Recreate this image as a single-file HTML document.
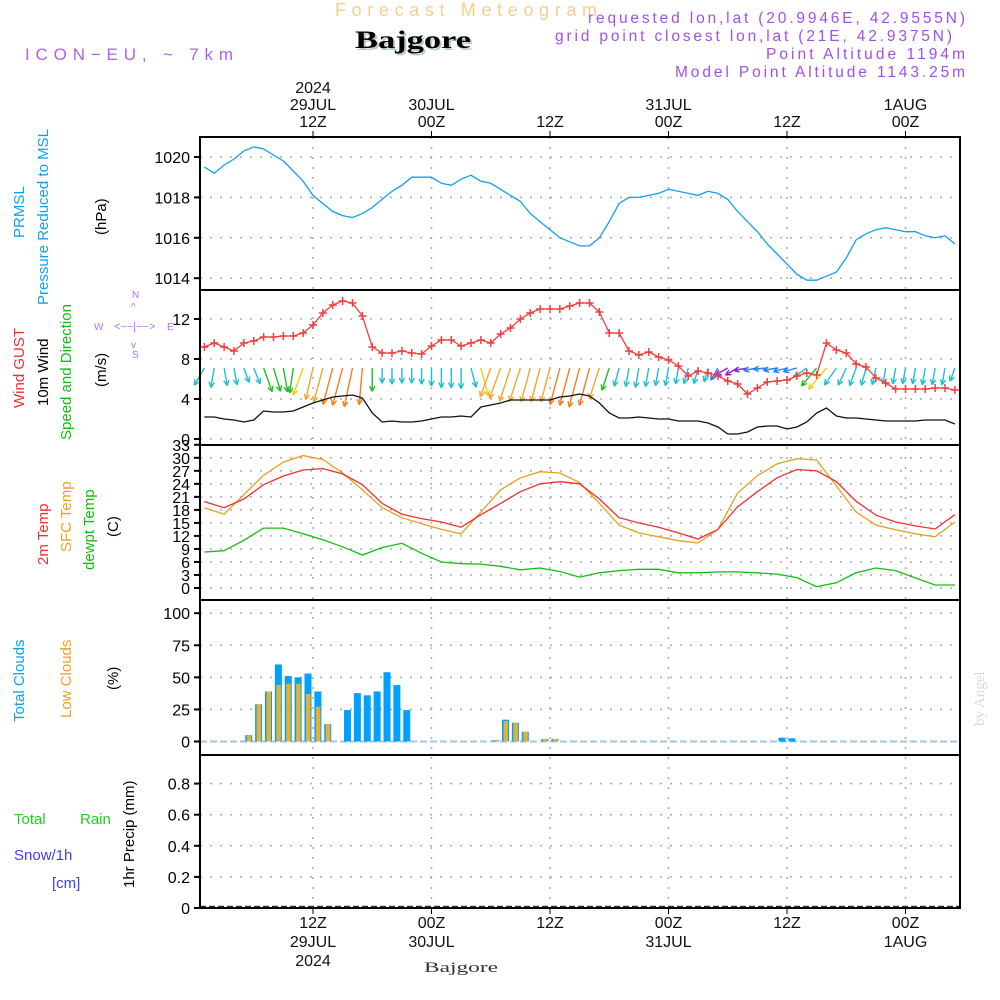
<!DOCTYPE html>
<html><head><meta charset="utf-8"><style>
html,body{margin:0;padding:0;background:#fff;}
svg{display:block;font-family:"Liberation Sans",sans-serif;}
</style></head><body>
<svg id="chart" width="1000" height="1000" viewBox="0 0 1000 1000" xmlns="http://www.w3.org/2000/svg">
<g>
<text x="335" y="16" textLength="262" lengthAdjust="spacing" font-size="18" fill="#f3d08c">Forecast Meteogram</text>
<text x="357" y="50" textLength="116" lengthAdjust="spacingAndGlyphs" font-family="Liberation Serif,serif" font-weight="bold" font-size="25" fill="#b8d0b8">Bajgore</text>
<text x="355" y="48" textLength="116" lengthAdjust="spacingAndGlyphs" font-family="Liberation Serif,serif" font-weight="bold" font-size="25" fill="#000">Bajgore</text>
<text x="25" y="60" textLength="208" lengthAdjust="spacing" font-size="17" fill="#b060f0">ICON−EU, ~ 7km</text>
<text x="588" y="23" textLength="377" lengthAdjust="spacing" font-size="15.5" fill="#a050e8">requested lon,lat (20.9946E, 42.9555N)</text>
<text x="555" y="41" textLength="397" lengthAdjust="spacing" font-size="15.5" fill="#a050e8">grid point closest lon,lat (21E, 42.9375N)</text>
<text x="766" y="59" textLength="199" lengthAdjust="spacing" font-size="15.5" fill="#a050e8">Point Altitude 1194m</text>
<text x="675" y="77" textLength="290" lengthAdjust="spacing" font-size="15.5" fill="#a050e8">Model Point Altitude 1143.25m</text>
<text transform="translate(984,726) rotate(-90)" font-family="Liberation Serif,serif" font-size="15" fill="#d8d8d8">by Angel</text>
<text x="424" y="972" textLength="74" lengthAdjust="spacingAndGlyphs" font-family="Liberation Serif,serif" font-size="15" fill="#333">Bajgore</text>
</g>
<g id="labels" font-size="15">
<text transform="translate(24,238) rotate(-90)" fill="#10a0f0">PRMSL</text>
<text transform="translate(48,305) rotate(-90)" fill="#10a0f0">Pressure Reduced to MSL</text>
<text transform="translate(106,235) rotate(-90)" fill="#000">(hPa)</text>
<text transform="translate(24,408) rotate(-90)" fill="#f03030">Wind GUST</text>
<text transform="translate(48,406) rotate(-90)" fill="#000">10m Wind</text>
<text transform="translate(71,440) rotate(-90)" fill="#10c010">Speed and Direction</text>
<text transform="translate(106,387) rotate(-90)" fill="#000">(m/s)</text>
<g fill="#b070f0" font-size="10" stroke="none">
<text x="132" y="298">N</text><text x="94" y="330">W</text><text x="167" y="330">E</text><text x="132" y="358">S</text>
<text x="114" y="330" font-size="11">&lt;−−|−−&gt;</text>
<text x="131" y="310" font-size="10">^</text><text x="131" y="348" font-size="10">v</text>
</g>
<text transform="translate(48,565) rotate(-90)" fill="#f03030">2m Temp</text>
<text transform="translate(71,552) rotate(-90)" fill="#f0a020">SFC Temp</text>
<text transform="translate(94,570) rotate(-90)" fill="#10c010">dewpt Temp</text>
<text transform="translate(118,537) rotate(-90)" fill="#000">(C)</text>
<text transform="translate(24,722) rotate(-90)" fill="#10a0f0">Total Clouds</text>
<text transform="translate(71,718) rotate(-90)" fill="#f0a020">Low Clouds</text>
<text transform="translate(118,690) rotate(-90)" fill="#000">(%)</text>
<text x="14" y="824" fill="#20d020">Total</text>
<text x="80" y="824" fill="#20d020">Rain</text>
<text x="14" y="860" fill="#4040f0">Snow/1h</text>
<text x="52" y="888" fill="#4040f0">[cm]</text>
<text transform="translate(134,888) rotate(-90)" fill="#000">1hr Precip (mm)</text>
</g>
<g id="grid"></g>
<g id="marks"></g>
<g id="frames"></g>
</svg>
<script>
const hours = [];
for (let i = 1; i <= 77; i++) hours.push(i);
const pressure = [1019.5,1019.2,1019.6,1019.9,1020.3,1020.5,1020.4,1020.1,1019.8,1019.3,1018.8,1018.1,1017.7,1017.3,1017.1,1017.0,1017.2,1017.5,1017.9,1018.3,1018.6,1019.0,1019.0,1019.0,1018.7,1018.6,1018.9,1019.1,1018.8,1018.7,1018.4,1018.1,1017.8,1017.2,1016.8,1016.4,1016.0,1015.8,1015.6,1015.6,1016.0,1016.8,1017.7,1018.0,1018.0,1018.1,1018.2,1018.4,1018.3,1018.2,1018.1,1018.3,1018.2,1017.9,1017.3,1016.8,1016.3,1015.7,1015.2,1014.7,1014.2,1013.9,1013.9,1014.1,1014.3,1015.0,1015.9,1016.2,1016.4,1016.5,1016.4,1016.3,1016.3,1016.1,1016.0,1016.1,1015.7];
const gust = [9.2,9.6,9.2,8.8,9.6,9.8,10.2,10.2,10.3,10.3,10.6,11.4,12.6,13.4,13.8,13.6,12.3,9.2,8.6,8.6,8.8,8.6,8.5,9.3,9.9,9.9,9.3,9.6,9.9,9.6,10.5,11.1,12.0,12.6,13.0,13.0,13.0,13.3,13.6,13.6,12.7,10.6,10.6,8.8,8.4,8.7,8.2,7.9,7.3,6.3,6.8,6.6,6.3,5.8,5.5,4.5,5.1,5.7,5.8,5.9,6.3,6.6,6.4,9.6,8.9,8.6,7.5,7.2,6.1,5.6,5.0,5.0,5.0,5.0,5.1,5.1,4.9];
const windSpeed = [2.2,2.2,2.0,1.9,1.7,1.9,2.8,2.7,2.7,2.8,3.2,3.6,3.9,4.2,4.3,4.4,4.1,2.6,1.7,1.8,1.7,1.7,1.8,2.0,2.2,2.2,2.3,2.2,3.2,3.4,3.6,3.9,3.9,3.9,3.9,3.9,4.2,4.3,4.5,4.3,3.6,2.6,2.1,2.1,2.2,2.1,2.0,2.0,1.8,1.8,1.8,1.6,1.2,0.5,0.5,0.7,1.2,1.3,1.3,1.0,1.2,1.7,2.6,3.1,2.3,2.1,2.1,2.0,1.9,1.8,1.8,1.8,1.8,1.9,1.9,1.9,1.5];
const windDir = [30,10,350,350,340,338,340,343,350,8,20,13,15,15,15,12,5,0,0,0,0,0,0,0,0,0,0,345,345,20,20,18,18,15,15,15,15,15,15,15,18,18,15,10,10,10,10,10,10,15,15,15,30,60,60,80,80,85,80,75,75,55,40,40,35,25,20,15,12,10,10,10,10,10,10,10,20];
const tempHours = [1,3,5,7,9,11,13,15,17,19,21,23,25,27,29,31,33,35,37,39,41,43,45,47,49,51,53,55,57,59,61,63,65,67,69,71,73,75,77];
const temp2m = [19.9,18.5,20.5,23.8,25.8,27.2,27.5,26.3,23.8,19.5,17.0,16.0,15.2,14.0,16.9,19.5,22.2,24.0,24.5,24.0,20.5,16.2,15.0,14.0,12.7,11.3,13.5,18.7,22.2,25.4,27.3,27.0,24.5,20.0,16.8,15.2,14.3,13.6,16.9];
const tempSfc = [18.5,17.0,21.5,26.0,29.0,30.5,29.6,26.5,22.6,18.5,16.2,14.8,13.5,12.5,17.5,22.6,25.4,26.8,26.5,24.3,19.5,14.5,12.7,11.8,10.9,10.4,13.5,21.9,25.9,28.6,29.8,29.5,23.5,17.5,14.5,13.4,12.5,11.8,15.2];
const dewpt = [8.3,8.6,11.0,13.8,13.8,12.5,11.1,9.5,7.6,9.3,10.3,8.0,6.0,5.6,5.5,5.0,4.2,4.6,3.8,2.5,3.5,4.0,4.3,4.3,3.5,3.5,3.7,3.7,3.5,3.2,2.4,0.3,1.2,3.5,4.6,4.0,2.3,0.7,0.7];
const cloudHours = [6,7,8,9,10,11,12,13,14,16,17,18,19,20,21,22,31,32,33,34,36,37,60,61];
const totalClouds = [5,29,39,60,51,50,53,39,13.5,24.5,37.7,36,39,54,44,24.5,1,17,14.6,7.6,2,2,3,2.5];
const lowClouds = [5,29,39,44,45,45,37,27,13.5,0,0,0,0,0,0,0,1,16,14.6,7.6,2,2,0,0];
const precipHours = [];
const precip = [];
const pressTicks = [1014,1016,1018,1020];
const windTicks = [0,4,8,12];
const tempTicks = [0,3,6,9,12,15,18,21,24,27,30,33];
const cloudTicks = [0,25,50,75,100];
const precipTicks = ["0","0.2","0.4","0.6","0.8"];
const timeTickHours = [12,24,36,48,60,72];
const topLabels = [["2024","29JUL","12Z"],["30JUL","00Z"],["12Z"],["31JUL","00Z"],["12Z"],["1AUG","00Z"]];
const botLabels = [["12Z","29JUL","2024"],["00Z","30JUL"],["12Z"],["00Z","31JUL"],["12Z"],["00Z","1AUG"]];

const NS = "http://www.w3.org/2000/svg";
const X0 = 200, X1 = 960;
function xh(h){ return 313 + (h - 12) * 9.875; }
const yP = p => 157 + (1020 - p) * 20.2;
const yW = v => 439 - v * 10;
const yT = t => 588 - t * 4.34;
const yC = c => 741.5 - c * 1.283;
const yR = r => 908 - r * 155.5;
const panels = [[137,290],[290,445],[445,600],[600,755],[755,908]];

function mk(tag, attrs, parent){
  const e = document.createElementNS(NS, tag);
  for (const k in attrs) e.setAttribute(k, attrs[k]);
  parent.appendChild(e);
  return e;
}
const grid = document.getElementById('grid');
const marks = document.getElementById('marks');
const frames = document.getElementById('frames');

timeTickHours.forEach((h, i) => {
  const x = xh(h);
  const l = mk('line', {x1:x, x2:x, y1:137, y2:908, stroke:'#aaa', 'stroke-width':1.5, 'stroke-dasharray':'2,8'}, grid);
  
  
  mk('line', {x1:x, x2:x, y1:131, y2:137, stroke:'#000'}, grid);
  mk('line', {x1:x, x2:x, y1:908, y2:914, stroke:'#000'}, grid);
  const tl = topLabels[i];
  tl.forEach((s, j) => {
    const t = mk('text', {x:x, y:127 - (tl.length - 1 - j) * 17, 'text-anchor':'middle', 'font-size':16, fill:'#111'}, grid);
    t.textContent = s;
    
    
  });
  botLabels[i].forEach((s, j) => {
    const t = mk('text', {x:x, y:928 + j * 19, 'text-anchor':'middle', 'font-size':16, fill:'#111'}, grid);
    t.textContent = s;
    
    
  });
});

function yAxis(ticks, yf, panelIdx, name){
  ticks.forEach(v => {
    const y = yf(parseFloat(v));
    const [t0, t1] = panels[panelIdx];
    if (y > t0 + 3 && y < t1 - 3) {
      const g = mk('line', {x1:X0, x2:X1, y1:y, y2:y, stroke:'#aaa', 'stroke-width':1.5, 'stroke-dasharray':'2,8'}, grid);
      
      
    }
    mk('line', {x1:X0 - 6, x2:X0, y1:y, y2:y, stroke:'#000', 'stroke-width':2}, grid);
    const t = mk('text', {x:190, y:y + 6, 'text-anchor':'end', 'font-size':16, fill:'#000'}, grid);
    t.textContent = v;
    
    
  });
}
yAxis(pressTicks, yP, 0, 'pressure');
yAxis(windTicks, yW, 1, 'wind');
yAxis(tempTicks, yT, 2, 'temp');
yAxis(cloudTicks, yC, 3, 'cloud');
yAxis(precipTicks, yR, 4, 'precip');

function line(hs, vals, yf, color, name, w){
  const pts = hs.map((h, i) => xh(h).toFixed(1) + ',' + yf(vals[i]).toFixed(1)).join(' ');
  const p = mk('polyline', {points:pts, fill:'none', stroke:color, 'stroke-width':w || 1.3}, marks);
  
  
  return p;
}
line(hours, pressure, yP, '#10a0f0', 'pressure-line');

const baseC = mk('line', {x1:X0, x2:X1, y1:yC(0), y2:yC(0), stroke:'#9cc8e0', 'stroke-width':2, 'stroke-dasharray':'7,3'}, marks);


cloudHours.forEach((h, i) => {
  const cx = xh(h) - 5;
  const tc = totalClouds[i], lc = lowClouds[i];
  const b = mk('rect', {x:cx - 3.5, y:yC(tc), width:7, height:yC(0) - yC(tc), fill:'#00a0ff'}, marks);
  
  
  if (lc > 0) {
    const b2 = mk('rect', {x:cx - 2, y:yC(lc), width:4.5, height:yC(0) - yC(lc), fill:'#e8b030'}, marks);
    
    
  }
});

const baseR = mk('line', {x1:X0, x2:X1, y1:906.5, y2:906.5, stroke:'#333', 'stroke-width':1.5, 'stroke-dasharray':'6,3'}, marks);


precipHours.forEach((h, i) => {
  const b = mk('rect', {x:xh(h) - 8, y:yR(precip[i]), width:6, height:908 - yR(precip[i]), fill:'#20d020'}, marks);
  
  
});

line(tempHours, tempSfc, yT, '#e8a020', 'sfc-temp-line');
line(tempHours, temp2m, yT, '#f03030', 'temp-2m-line');
line(tempHours, dewpt, yT, '#10c010', 'dewpoint-line');

function windColor(s){
  if (s < 1) return '#9020e0';
  if (s < 1.5) return '#2080ff';
  if (s < 2.6) return '#20c0d0';
  if (s < 3.0) return '#20c020';
  if (s < 3.4) return '#e8d020';
  if (s < 4.0) return '#f0a830';
  return '#f08020';
}
hours.forEach((h, i) => {
  const s = windSpeed[i], d = windDir[i] * Math.PI / 180;
  const L = Math.max(s * 9, 14);
  const x0 = xh(h), y0 = 368;
  const ux = -Math.sin(d), uy = Math.cos(d);
  const x1 = x0 + ux * L, y1 = y0 + uy * L;
  const c = windColor(s);
  const g = mk('g', {stroke:c, 'stroke-width':1.4, fill:'none'}, marks);
  
  
  mk('line', {x1:x0, y1:y0, x2:x1, y2:y1}, g);
  const a = 0.45, hl = 6;
  [a, -a].forEach(da => {
    const bx = -(ux * Math.cos(da) - uy * Math.sin(da)), by = -(ux * Math.sin(da) + uy * Math.cos(da));
    mk('line', {x1:x1, y1:y1, x2:x1 + bx * hl, y2:y1 + by * hl}, g);
  });
});
line(hours, windSpeed, yW, '#111', 'wind-speed-line');
line(hours, gust, yW, '#f04040', 'gust-line');
hours.forEach((h, i) => {
  const x = xh(h), y = yW(gust[i]);
  const g = mk('path', {d:`M${x-4},${y}H${x+4}M${x},${y-4}V${y+4}`, stroke:'#f04040', 'stroke-width':1.5}, marks);
  
  
});

panels.forEach(([t, b]) => {
  const r = mk('rect', {x:X0, y:t, width:X1 - X0, height:b - t, fill:'none', stroke:'#000', 'stroke-width':2}, frames);
  
  
});
</script>
</body></html>
